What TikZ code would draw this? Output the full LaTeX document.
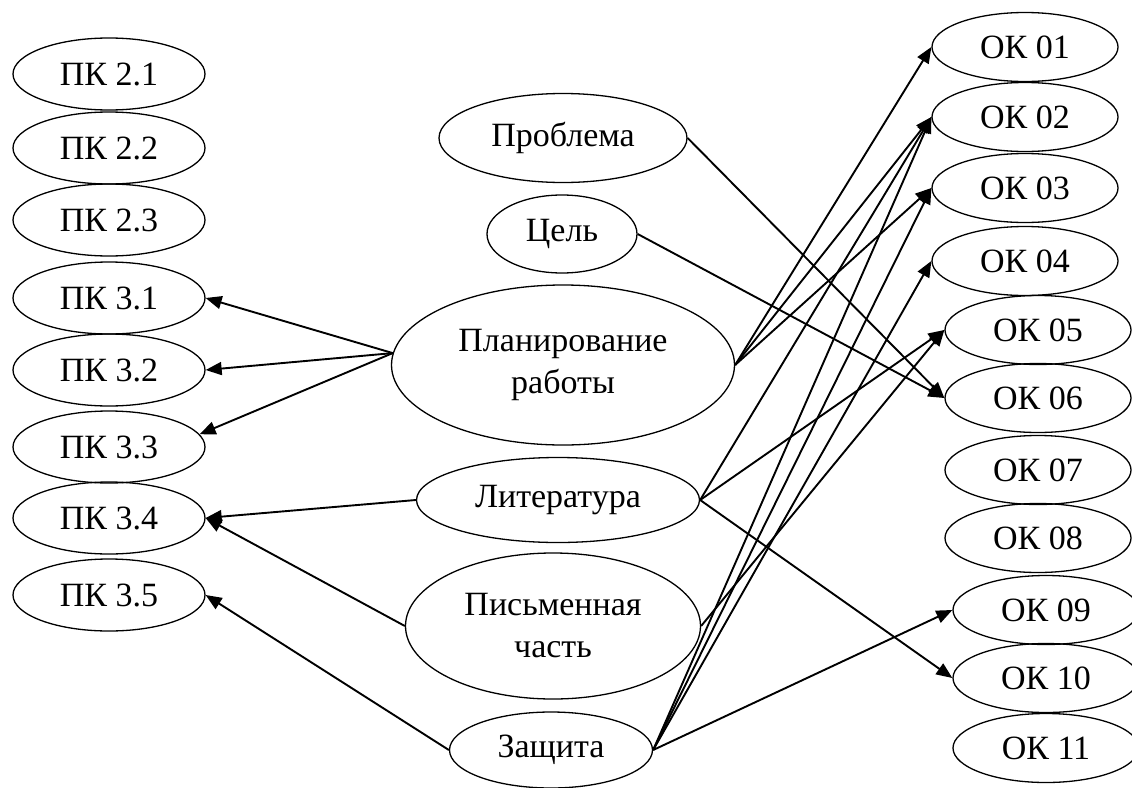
\documentclass[tikz,border=0pt]{standalone}
\usepackage{fontspec}
\setmainfont{Liberation Serif}
\usetikzlibrary{shapes.geometric,arrows.meta}

\begin{document}
\begin{tikzpicture}[x=1pt,y=-1pt,
  oval/.style={draw,ellipse,line width=1.3pt,inner sep=0pt,align=center,
    font=\fontsize{34}{42}\selectfont},
  link/.style={line width=1.9pt,-{Triangle[length=16pt,width=13pt]}}]

\useasboundingbox (0,0) rectangle (1132,787);

% ПК column
\node (pk21) [oval,minimum width=192pt,minimum height=72pt] at (109,74) {ПК 2.1};
\node (pk22) [oval,minimum width=192pt,minimum height=72pt] at (109,148) {ПК 2.2};
\node (pk23) [oval,minimum width=192pt,minimum height=72pt] at (109,220) {ПК 2.3};
\node (pk31) [oval,minimum width=192pt,minimum height=72pt] at (109,298) {ПК 3.1};
\node (pk32) [oval,minimum width=192pt,minimum height=72pt] at (109,370) {ПК 3.2};
\node (pk33) [oval,minimum width=192pt,minimum height=72pt] at (109,447) {ПК 3.3};
\node (pk34) [oval,minimum width=192pt,minimum height=72pt] at (109,518) {ПК 3.4};
\node (pk35) [oval,minimum width=192pt,minimum height=72pt] at (109,595) {ПК 3.5};

% stages in the middle
\node (prob) [oval,minimum width=248pt,minimum height=89pt] at (563,138) {Проблема};
\node (cel)  [oval,minimum width=150pt,minimum height=78pt] at (562,234) {Цель};
\node (plan) [oval,minimum width=343pt,minimum height=160pt] at (563,365) {Планирование\\работы};
\node (lit)  [oval,minimum width=283pt,minimum height=85pt] at (558,500) {Литература};
\node (pis)  [oval,minimum width=295pt,minimum height=146pt] at (553,626) {Письменная\\часть};
\node (zas)  [oval,minimum width=203pt,minimum height=76pt] at (551,750) {Защита};

% ОК column
\node (ok01) [oval,minimum width=186pt,minimum height=69pt] at (1025,47) {ОК 01};
\node (ok02) [oval,minimum width=186pt,minimum height=69pt] at (1025,117) {ОК 02};
\node (ok03) [oval,minimum width=186pt,minimum height=69pt] at (1025,188) {ОК 03};
\node (ok04) [oval,minimum width=186pt,minimum height=69pt] at (1025,261) {ОК 04};
\node (ok05) [oval,minimum width=186pt,minimum height=69pt] at (1038,330) {ОК 05};
\node (ok06) [oval,minimum width=186pt,minimum height=69pt] at (1038,398) {ОК 06};
\node (ok07) [oval,minimum width=186pt,minimum height=69pt] at (1038,470) {ОК 07};
\node (ok08) [oval,minimum width=186pt,minimum height=69pt] at (1038,538) {ОК 08};
\node (ok09) [oval,minimum width=186pt,minimum height=69pt] at (1046,610) {ОК 09};
\node (ok10) [oval,minimum width=186pt,minimum height=69pt] at (1046,678) {ОК 10};
\node (ok11) [oval,minimum width=186pt,minimum height=69pt] at (1046,748) {ОК 11};

% arrows to the left
\draw [link] (plan.176) -- (pk31.east);
\draw [link] (plan.176) -- (pk32.east);
\draw [link] (plan.176) -- (pk33.8);
\draw [link] (lit.west) -- (pk34.east);
\draw [link] (pis.west) -- (pk34.east);
\draw [link] (zas.west) -- (pk35.east);

% arrows to the right
\draw [link] (prob.east) -- (ok06.west);
\draw [link] (cel.east) -- (ok06.west);
\draw [link] (plan.east) -- (ok01.west);
\draw [link] (plan.east) -- (ok02.west);
\draw [link] (plan.east) -- (ok03.west);
\draw [link] (lit.east) -- (ok02.west);
\draw [link] (lit.east) -- (ok05.west);
\draw [link] (lit.east) -- (ok10.west);
\draw [link] (pis.east) -- (ok05.west);
\draw [link] (zas.east) -- (ok02.west);
\draw [link] (zas.east) -- (ok03.west);
\draw [link] (zas.east) -- (ok04.west);
\draw [link] (zas.east) -- (ok09.west);

\end{tikzpicture}
\end{document}
